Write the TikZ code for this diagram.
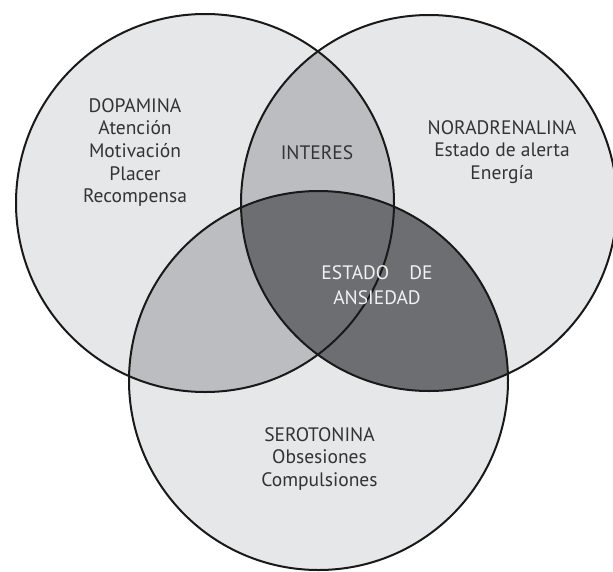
\documentclass[tikz,border=0pt]{standalone}
\usepackage{fontspec}
\setmainfont{PT Sans}
\definecolor{lightfill}{HTML}{E6E7E8}
\definecolor{midfill}{HTML}{BCBDC0}
\definecolor{darkfill}{HTML}{6D6E71}
\definecolor{txt}{HTML}{333335}
\definecolor{wtxt}{HTML}{F2F2F2}
\tikzset{
  ring/.style={draw=black!90, line width=2pt},
  lbl/.style={text=txt, font=\fontsize{19.5}{22.7}\selectfont, align=center, inner sep=0pt},
  wlbl/.style={text=wtxt, font=\fontsize{19.5}{25}\selectfont, align=center, inner sep=0pt}
}
\begin{document}
\begin{tikzpicture}[x=1pt,y=-1pt]
\useasboundingbox (0,0) rectangle (613,571);
\coordinate (cL) at (205,203);
\coordinate (cR) at (429,203);
\coordinate (cB) at (318.5,380.5);
\def\rL{189}\def\rR{188}\def\rB{189.5}
% base fills
\fill[lightfill] (cL) circle[radius=\rL];
\fill[lightfill] (cR) circle[radius=\rR];
\fill[lightfill] (cB) circle[radius=\rB];
% pairwise overlaps
\begin{scope}
  \clip (cL) circle[radius=\rL];
  \fill[midfill] (cR) circle[radius=\rR];
  \fill[midfill] (cB) circle[radius=\rB];
\end{scope}
\begin{scope}
  \clip (cR) circle[radius=\rR];
  \fill[darkfill] (cB) circle[radius=\rB];
\end{scope}
% outlines
\draw[ring] (cL) circle[radius=\rL];
\draw[ring] (cR) circle[radius=\rR];
\draw[ring] (cB) circle[radius=\rB];
% labels
\node[lbl, anchor=north] (dop) at (135,98) {DOPAMINA\\Atención\\Motivación\\Placer\\Recompensa};
\node[lbl, anchor=north] (nor) at (502,120) {NORADRENALINA\\Estado de alerta\\Energía};
\node[lbl] (int) at (317,152.5) {INTERES};
\node[wlbl] (ans) at (377,285.5) {ESTADO\hspace{20pt}DE\\ANSIEDAD};
\node[lbl, anchor=north] (ser) at (319.5,427) {SEROTONINA\\Obsesiones\\Compulsiones};
\end{tikzpicture}
\end{document}
